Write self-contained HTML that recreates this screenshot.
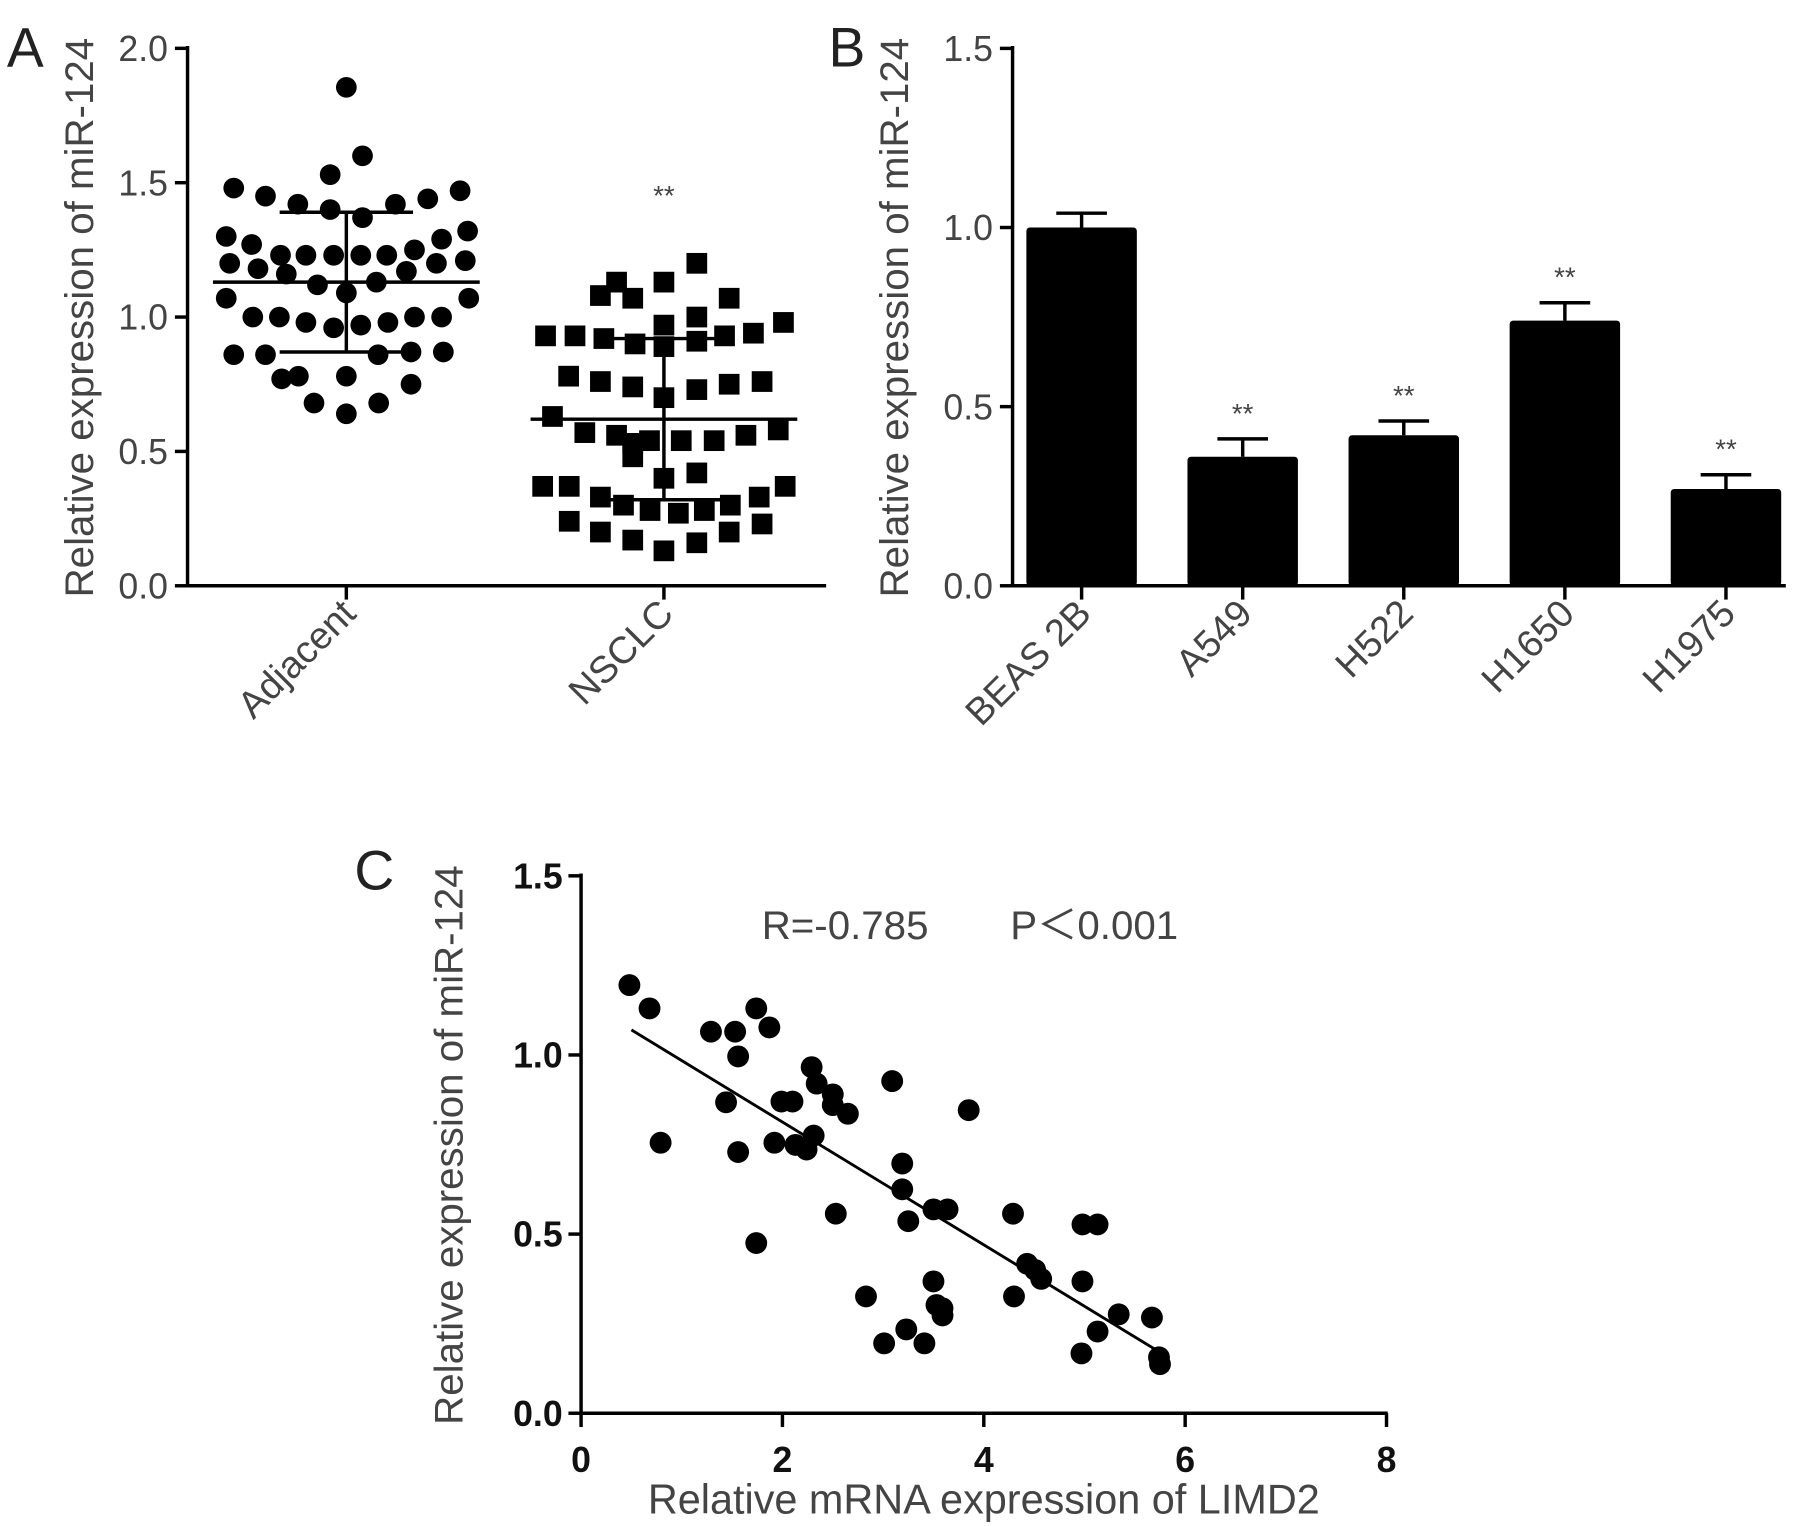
<!DOCTYPE html>
<html><head><meta charset="utf-8">
<style>
html,body{margin:0;padding:0;background:#fff;}
svg{display:block;font-family:"Liberation Sans",Arial,sans-serif;}
</style></head>
<body>
<svg id="fig" width="1795" height="1526" viewBox="0 0 1560 1326" preserveAspectRatio="none" xmlns="http://www.w3.org/2000/svg">
<rect width="1560" height="1326" fill="#fff"/>
</svg>
<script>
// ---- Panel A data ----
const adjVals = [1.855,1.60,1.53,1.48,1.45,1.47,1.44,1.42,1.42,1.40,1.37,1.30,1.32,1.27,1.29,1.23,1.23,1.23,1.23,1.23,1.25,1.20,1.21,1.18,1.20,1.16,1.17,1.12,1.13,1.09,1.07,1.07,1.00,1.00,0.98,0.96,0.97,0.98,1.00,1.00,0.86,0.86,0.86,0.87,0.87,0.77,0.78,0.78,0.75,0.68,0.68,0.64];
const adjJit = [600,628,572,405,460,797,741,516,685,572,628,392,810,436,765,486,530,578,625,670,718,398,806,447,756,496,704,550,652,600,392,812,438,484,530,578,625,672,718,765,405,460,655,712,768,488,517,600,712,544,656,600].map(v=>(v-600)/550);
const nscVals = [1.20,1.13,1.13,1.08,1.07,1.07,1.00,0.97,0.93,0.98,0.93,0.92,0.94,0.90,0.89,0.91,0.93,0.78,0.76,0.74,0.70,0.73,0.75,0.76,0.63,0.57,0.56,0.53,0.54,0.54,0.54,0.56,0.58,0.48,0.40,0.42,0.37,0.37,0.33,0.30,0.28,0.27,0.28,0.30,0.33,0.37,0.24,0.20,0.17,0.13,0.16,0.20,0.23];
const nscJit = [1207,1068,1150,1040,1096,1263,1207,1150,945,1357,996,1046,1305,1100,1150,1207,1255,985,1040,1096,1150,1207,1263,1320,957,1013,1068,1096,1125,1180,1237,1292,1348,1096,1150,1207,940,986,1040,1080,1126,1175,1220,1265,1315,1360,986,1040,1096,1150,1207,1263,1320].map(v=>(v-1150)/550);
const groupsA = ["Adjacent","NSCLC"];
const meanA = [1.13,0.62];
const sdHiA = [1.39,0.92];
const sdLoA = [0.87,0.32];
const ticksA = ["0.0","0.5","1.0","1.5","2.0"];
// ---- Panel B data ----
const cellsB = ["BEAS 2B","A549","H522","H1650","H1975"];
const valsB = [1.0,0.36,0.42,0.74,0.27];
const errB = [0.04,0.05,0.04,0.05,0.04];
const sigB = ["","**","**","**","**"];
const ticksB = ["0.0","0.5","1.0","1.5"];
// ---- Panel C data ----
const cX = [0.48,0.68,1.29,1.53,1.74,1.87,1.56,0.79,1.44,1.56,1.74,1.92,1.99,2.10,2.13,2.24,2.29,2.31,2.34,2.50,2.50,2.65,2.53,3.09,3.19,3.19,3.25,3.50,3.64,3.85,2.83,3.01,3.23,3.41,3.50,3.53,3.59,3.59,4.29,4.30,4.43,4.51,4.57,4.98,5.13,4.98,4.97,5.13,5.34,5.67,5.74,5.75];
const cY = [1.195,1.13,1.065,1.065,1.13,1.077,0.996,0.755,0.868,0.729,0.475,0.755,0.87,0.87,0.749,0.736,0.966,0.775,0.92,0.89,0.86,0.836,0.557,0.927,0.697,0.625,0.536,0.569,0.569,0.846,0.326,0.195,0.234,0.195,0.368,0.302,0.293,0.273,0.557,0.326,0.417,0.40,0.375,0.527,0.527,0.368,0.167,0.228,0.276,0.267,0.156,0.137];
const fitX = [0.5,5.75];
const fitY = [1.07,0.17];
const ticksCY = ["0.0","0.5","1.0","1.5"];
const ticksCX = [0,2,4,6,8];

const svg = document.getElementById('fig');
const NS = "http://www.w3.org/2000/svg";
function mk(tag, attrs, text){
  const e = document.createElementNS(NS, tag);
  for (const k in attrs) e.setAttribute(k, attrs[k]);
  if (text !== undefined) e.textContent = text;
  svg.appendChild(e);
  return e;
}
const GRAY = "#444";
const TICK = 31, TITLE = 35, XLAB = 33;

// ===== Panel A =====
const ayA = v => 509 - v*233.5;
const axA = i => 301 + i*276;
let e;
e = mk('text',{x:6,y:58,'font-size':48,fill:'#222'},'A');
 
e = mk('line',{x1:163,y1:40,x2:163,y2:510,stroke:'#000','stroke-width':3});
 
e = mk('line',{x1:162,y1:509,x2:718,y2:509,stroke:'#000','stroke-width':3});
 
ticksA.forEach((t)=>{
  const y = ayA(parseFloat(t));
  e = mk('line',{x1:152,y1:y,x2:163,y2:y,stroke:'#000','stroke-width':3});
   
  e = mk('text',{x:146,y:y+11,'font-size':TICK,fill:GRAY,'text-anchor':'end'},t);
   
});
e = mk('text',{x:0,y:0,'font-size':TITLE,fill:GRAY,'text-anchor':'middle',transform:'translate(81,276) rotate(-90)'},'Relative expression of miR-124');
 
groupsA.forEach((g,i)=>{
  const x = axA(i);
  e = mk('line',{x1:x,y1:509,x2:x,y2:521,stroke:'#000','stroke-width':3});
   
  e = mk('text',{x:0,y:0,'font-size':XLAB,fill:GRAY,'text-anchor':'end',transform:`translate(${x+10},${535}) rotate(-45)`},g);
   
});
adjVals.forEach((v,k)=>{
  e = mk('circle',{cx:axA(0)+adjJit[k]*276,cy:ayA(v),r:9,fill:'#000'});
   
});
nscVals.forEach((v,k)=>{
  const cx = axA(1)+nscJit[k]*276, cy = ayA(v);
  e = mk('rect',{x:cx-9,y:cy-9,width:18,height:18,fill:'#000'});
   
});
groupsA.forEach((g,i)=>{
  const x = axA(i);
  e = mk('line',{x1:x-0.42*276,y1:ayA(meanA[i]),x2:x+0.42*276,y2:ayA(meanA[i]),stroke:'#000','stroke-width':3});
   
  e = mk('line',{x1:x,y1:ayA(sdHiA[i]),x2:x,y2:ayA(sdLoA[i]),stroke:'#000','stroke-width':3});
   
  [sdHiA[i],sdLoA[i]].forEach(s=>{
    e = mk('line',{x1:x-0.21*276,y1:ayA(s),x2:x+0.21*276,y2:ayA(s),stroke:'#000','stroke-width':3});
     
  });
});
e = mk('text',{x:axA(1),y:178,'font-size':24,fill:GRAY,'text-anchor':'middle'},'**');
 

// ===== Panel B =====
const ayB = v => 509 - v*311.3;
const axB = i => 940 + i*140;
e = mk('text',{x:720,y:58,'font-size':48,fill:'#222'},'B');
 
e = mk('line',{x1:880,y1:40,x2:880,y2:510,stroke:'#000','stroke-width':3});
 
e = mk('line',{x1:879,y1:509,x2:1552,y2:509,stroke:'#000','stroke-width':3});
 
ticksB.forEach(t=>{
  const y = ayB(parseFloat(t));
  e = mk('line',{x1:869,y1:y,x2:880,y2:y,stroke:'#000','stroke-width':3});
   
  e = mk('text',{x:863,y:y+11,'font-size':TICK,fill:GRAY,'text-anchor':'end'},t);
   
});
e = mk('text',{x:0,y:0,'font-size':TITLE,fill:GRAY,'text-anchor':'middle',transform:'translate(789,276) rotate(-90)'},'Relative expression of miR-124');
 
cellsB.forEach((c,i)=>{
  const x = axB(i), top = ayB(valsB[i]), et = ayB(valsB[i]+errB[i]);
  e = mk('line',{x1:x,y1:top,x2:x,y2:et,stroke:'#000','stroke-width':3});
   
  e = mk('line',{x1:x-22,y1:et,x2:x+22,y2:et,stroke:'#000','stroke-width':3});
   
  e = mk('rect',{x:x-48,y:top,width:96,height:509-top,rx:3,fill:'#000'});
   
  if (sigB[i]) {
    e = mk('text',{x:x,y:et-14,'font-size':24,fill:GRAY,'text-anchor':'middle'},sigB[i]);
     
  }
  e = mk('line',{x1:x,y1:509,x2:x,y2:521,stroke:'#000','stroke-width':3});
   
  e = mk('text',{x:0,y:0,'font-size':XLAB,fill:GRAY,'text-anchor':'end',transform:`translate(${x+10},${535}) rotate(-45)`},c);
   
});

// ===== Panel C =====
const ayC = v => 1228 - v*311.3;
const axC = v => 505 + v*87.5;
e = mk('text',{x:308,y:773,'font-size':48,fill:'#222'},'C');
 
e = mk('line',{x1:505,y1:759,x2:505,y2:1229,stroke:'#000','stroke-width':3});
 
e = mk('line',{x1:504,y1:1228,x2:1206,y2:1228,stroke:'#000','stroke-width':3});
 
ticksCY.forEach(t=>{
  const y = ayC(parseFloat(t));
  e = mk('line',{x1:494,y1:y,x2:505,y2:y,stroke:'#000','stroke-width':3});
   
  e = mk('text',{x:489,y:y+11,'font-size':TICK,fill:'#111','font-weight':'bold','text-anchor':'end'},t);
   
});
ticksCX.forEach(t=>{
  const x = axC(t);
  e = mk('line',{x1:x,y1:1228,x2:x,y2:1240,stroke:'#000','stroke-width':3});
   
  e = mk('text',{x:x,y:1279,'font-size':TICK,fill:'#111','font-weight':'bold','text-anchor':'middle'},String(t));
   
});
e = mk('text',{x:0,y:0,'font-size':TITLE,fill:GRAY,'text-anchor':'middle',transform:'translate(402,995) rotate(-90)'},'Relative expression of miR-124');
 
e = mk('text',{x:855,y:1315,'font-size':36,fill:GRAY,'text-anchor':'middle'},'Relative mRNA expression of LIMD2');
 
e = mk('text',{x:662,y:816,'font-size':35,fill:GRAY},'R=-0.785');
 
e = mk('text',{x:878,y:816,'font-size':35,fill:GRAY},'P\uFF1C0.001');
 
e = mk('line',{x1:axC(fitX[0]),y1:ayC(fitY[0]),x2:axC(fitX[1]),y2:ayC(fitY[1]),stroke:'#000','stroke-width':2.5});
 
cX.forEach((xv,k)=>{
  e = mk('circle',{cx:axC(xv),cy:ayC(cY[k]),r:9.5,fill:'#000'});
   
});
</script>
</body></html>
